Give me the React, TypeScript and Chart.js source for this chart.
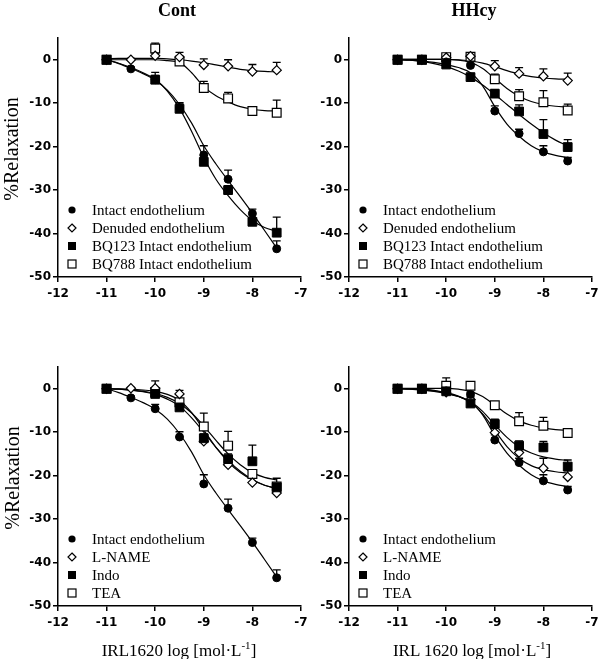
import React, { useEffect, useRef } from "react";
import { Chart, registerables } from "chart.js";

Chart.register(...registerables);

// ---------------- DATA ----------------
const doses = [-11, -10.5, -10, -9.5, -9, -8.5, -8, -7.5];
const fitDoses = [-11, -10.75, -10.5, -10.25, -10, -9.75, -9.5, -9.25, -9, -8.75, -8.5, -8.25, -8, -7.75, -7.5];
const xTicks = [-12, -11, -10, -9, -8, -7];
const yTicks = [0, -10, -20, -30, -40, -50];

// Cont – intact endothelium (used in both Cont panels)
const contIntactMean = [0, -2.1, -4.6, -11.1, -21.9, -27.5, -35.4, -43.5];
const contIntactSem = [0, 0.4, 1.0, 1.2, 2.1, 2.1, 1.0, 1.8];
const contIntactFit = [0, -0.9, -2.0, -3.2, -4.7, -7.0, -10.3, -14.6, -19.8, -24.0, -27.8, -31.5, -35.3, -39.3, -43.3];

// Cont – denuded / BQ123 / BQ788 (null = no visible point)
const contDenudedMean = [0, 0, 0.9, 0.6, -1.2, -1.5, -2.7, -2.4];
const contDenudedSem = [0, 0.3, 0.6, 1.1, 1.4, 1.5, 1.6, 1.8];
const contDenudedFit = [0.2, 0.3, 0.3, 0.3, 0.3, 0.2, 0.0, -0.3, -0.7, -1.2, -1.7, -2.2, -2.5, -2.7, -2.8];

const contBq123Mean = [0, null, -4.6, -11.3, -23.5, -30.0, -37.3, -39.8];
const contBq123Sem = [0, 0, 1.7, 1.3, 1.5, 1.0, 0.8, 3.6];
const contBq123Fit = [0, -0.8, -1.8, -3.0, -4.5, -7.2, -11.2, -16.5, -22.5, -27.5, -31.3, -34.5, -37.0, -38.6, -39.5];

const contBq788Mean = [0, null, 2.6, -0.4, -6.5, -8.9, -11.8, -12.2];
const contBq788Sem = [0, 0, 1.2, 1.3, 1.5, 1.4, 0.6, 2.9];
const contBq788Fit = [0, 0, 0, 0, 0, -0.2, -0.6, -3.0, -6.2, -8.3, -9.7, -10.8, -11.4, -11.7, -11.8];

// Cont – L-NAME / Indo / TEA
const contLnameMean = [0, 0.1, 0.1, -1.2, -12.1, -17.5, -21.6, -24.0];
const contLnameSem = [0, 0.2, 1.7, 0.8, 1.0, 1.0, 1.0, 1.2];
const contLnameFit = [0, 0, -0.1, -0.3, -0.6, -1.3, -2.7, -5.5, -9.5, -13.5, -16.8, -19.3, -21.0, -22.2, -22.9];

const contIndoMean = [0, null, -1.2, -4.3, -11.4, -16.2, -16.7, -22.7];
const contIndoSem = [0, 0, 0.6, 0.5, 1.0, 1.2, 3.7, 2.1];
const contIndoFit = [0, -0.1, -0.3, -0.7, -1.3, -2.4, -4.0, -6.7, -10.0, -13.5, -16.5, -19.0, -20.9, -22.2, -23.0];

const contTeaMean = [0, null, -0.8, -3.1, -8.7, -13.1, -19.6, -22.5];
const contTeaSem = [0, 0, 0.5, 0.7, 3.1, 3.3, 1.0, 0.9];
const contTeaFit = [0, -0.1, -0.3, -0.6, -1.1, -2.0, -3.4, -5.6, -8.6, -11.9, -15.0, -17.5, -19.3, -20.4, -21.0];

// HHcy – intact endothelium (used in both HHcy panels)
const hhcyIntactMean = [0, 0, -0.5, -1.3, -11.8, -17.0, -21.2, -23.3];
const hhcyIntactSem = [0, 0, 0.3, 0.5, 1.2, 1.0, 1.4, 0.8];
const hhcyIntactFit = [0, -0.1, -0.3, -0.6, -1.1, -1.8, -3.0, -6.0, -10.8, -14.8, -17.6, -19.8, -21.2, -22.0, -22.5];

// HHcy – denuded / BQ123 / BQ788
const hhcyDenudedMean = [0, 0, 0.5, 0.8, -1.5, -3.2, -3.8, -4.8];
const hhcyDenudedSem = [0, 0, 0.5, 0.5, 1.3, 1.4, 1.7, 1.7];
const hhcyDenudedFit = [0.1, 0.1, 0.1, 0.1, 0.1, 0, -0.3, -0.8, -1.6, -2.5, -3.3, -3.9, -4.2, -4.4, -4.5];

const hhcyBq123Mean = [0, 0, -1.1, -4.0, -7.8, -11.9, -17.1, -20.1];
const hhcyBq123Sem = [0, 0, 0.6, 0.6, 0.9, 1.5, 3.3, 1.7];
const hhcyBq123Fit = [0, -0.1, -0.4, -0.9, -1.6, -2.6, -4.0, -5.8, -8.0, -10.3, -12.6, -14.8, -16.8, -18.5, -19.8];

const hhcyBq788Mean = [0, 0, 0.6, 0.7, -4.5, -8.4, -9.8, -11.7];
const hhcyBq788Sem = [0, 0, 0.5, 0.6, 1.2, 1.5, 2.7, 1.5];
const hhcyBq788Fit = [0.1, 0.1, 0.1, 0.1, 0.1, -0.1, -0.6, -2.0, -4.3, -6.6, -8.4, -9.6, -10.3, -10.7, -10.9];

// HHcy – L-NAME / Indo / TEA
const hhcyLnameMean = [0, 0, -0.8, -2.5, -10.1, -14.7, -18.3, -20.3];
const hhcyLnameSem = [0, 0, 0.4, 0.6, 1.0, 1.0, 2.3, 1.4];
const hhcyLnameFit = [0, 0, -0.1, -0.4, -1.0, -1.8, -3.2, -5.8, -9.6, -13.3, -16.0, -17.7, -18.6, -19.1, -19.4];

const hhcyIndoMean = [0, 0, -0.6, -3.4, -8.1, -13.1, -13.5, -17.9];
const hhcyIndoSem = [0, 0, 0.5, 0.6, 1.1, 1.1, 1.4, 1.5];
const hhcyIndoFit = [0, -0.1, -0.2, -0.5, -0.9, -1.7, -3.0, -5.2, -8.3, -11.2, -13.4, -14.8, -15.7, -16.2, -16.5];

const hhcyTeaMean = [0, 0, 0.7, 0.7, -3.8, -7.5, -8.5, -10.2];
const hhcyTeaSem = [0, 0, 1.8, 0.8, 0.6, 2.0, 1.9, 0.6];
const hhcyTeaFit = [0.1, 0.1, 0.1, 0.1, 0.1, -0.1, -0.6, -1.8, -3.8, -5.8, -7.4, -8.4, -9.0, -9.4, -9.6];

// ---------------- TYPES / STYLES ----------------
type Kind = "filledCircle" | "openDiamond" | "filledSquare" | "openSquare";
interface Series {
  label: string;
  kind: Kind;
  mean: (number | null)[];
  sem: number[];
  fit: number[];
}

const topLeft: Series[] = [
  { label: "Intact endothelium", kind: "filledCircle", mean: contIntactMean, sem: contIntactSem, fit: contIntactFit },
  { label: "Denuded endothelium", kind: "openDiamond", mean: contDenudedMean, sem: contDenudedSem, fit: contDenudedFit },
  { label: "BQ123 Intact endothelium", kind: "filledSquare", mean: contBq123Mean, sem: contBq123Sem, fit: contBq123Fit },
  { label: "BQ788 Intact endothelium", kind: "openSquare", mean: contBq788Mean, sem: contBq788Sem, fit: contBq788Fit },
];
const topRight: Series[] = [
  { label: "Intact endothelium", kind: "filledCircle", mean: hhcyIntactMean, sem: hhcyIntactSem, fit: hhcyIntactFit },
  { label: "Denuded endothelium", kind: "openDiamond", mean: hhcyDenudedMean, sem: hhcyDenudedSem, fit: hhcyDenudedFit },
  { label: "BQ123 Intact endothelium", kind: "filledSquare", mean: hhcyBq123Mean, sem: hhcyBq123Sem, fit: hhcyBq123Fit },
  { label: "BQ788 Intact endothelium", kind: "openSquare", mean: hhcyBq788Mean, sem: hhcyBq788Sem, fit: hhcyBq788Fit },
];
const bottomLeft: Series[] = [
  { label: "Intact endothelium", kind: "filledCircle", mean: contIntactMean, sem: contIntactSem, fit: contIntactFit },
  { label: "L-NAME", kind: "openDiamond", mean: contLnameMean, sem: contLnameSem, fit: contLnameFit },
  { label: "Indo", kind: "filledSquare", mean: contIndoMean, sem: contIndoSem, fit: contIndoFit },
  { label: "TEA", kind: "openSquare", mean: contTeaMean, sem: contTeaSem, fit: contTeaFit },
];
const bottomRight: Series[] = [
  { label: "Intact endothelium", kind: "filledCircle", mean: hhcyIntactMean, sem: hhcyIntactSem, fit: hhcyIntactFit },
  { label: "L-NAME", kind: "openDiamond", mean: hhcyLnameMean, sem: hhcyLnameSem, fit: hhcyLnameFit },
  { label: "Indo", kind: "filledSquare", mean: hhcyIndoMean, sem: hhcyIndoSem, fit: hhcyIndoFit },
  { label: "TEA", kind: "openSquare", mean: hhcyTeaMean, sem: hhcyTeaSem, fit: hhcyTeaFit },
];

const drawOrder: Record<Kind, number> = { filledSquare: 1, filledCircle: 2, openDiamond: 3, openSquare: 4 };

function pointStyleFor(kind: Kind) {
  switch (kind) {
    case "filledCircle":
      return { pointStyle: "circle", pointRadius: 4, pointBackgroundColor: "#000", pointBorderColor: "#000", pointBorderWidth: 1 };
    case "openDiamond":
      return { pointStyle: "rectRot", pointRadius: 4.6, pointBackgroundColor: "#fff", pointBorderColor: "#000", pointBorderWidth: 1.2 };
    case "filledSquare":
      return { pointStyle: "rect", pointRadius: 6.2, pointBackgroundColor: "#000", pointBorderColor: "#000", pointBorderWidth: 1 };
    default:
      return { pointStyle: "rect", pointRadius: 6.2, pointBackgroundColor: "#fff", pointBorderColor: "#000", pointBorderWidth: 1.2 };
  }
}

function drawLegendSymbol(ctx: CanvasRenderingContext2D, kind: Kind, x: number, y: number) {
  ctx.save();
  ctx.lineWidth = 1.2;
  ctx.strokeStyle = "#000";
  ctx.fillStyle = "#000";
  if (kind === "filledCircle") {
    ctx.beginPath();
    ctx.arc(x, y, 3.6, 0, Math.PI * 2);
    ctx.fill();
  } else if (kind === "openDiamond") {
    ctx.beginPath();
    ctx.moveTo(x, y - 4);
    ctx.lineTo(x + 4, y);
    ctx.lineTo(x, y + 4);
    ctx.lineTo(x - 4, y);
    ctx.closePath();
    ctx.fillStyle = "#fff";
    ctx.fill();
    ctx.stroke();
  } else if (kind === "filledSquare") {
    ctx.fillRect(x - 4, y - 4, 8, 8);
  } else {
    ctx.fillStyle = "#fff";
    ctx.fillRect(x - 4, y - 4, 8, 8);
    ctx.strokeRect(x - 4, y - 4, 8, 8);
  }
  ctx.restore();
}

const tickFont = { family: "'DejaVu Sans', 'Liberation Sans', Arial, sans-serif", weight: "bold" as const, size: 12 };

const errorBarPlugin = {
  id: "errorBars",
  beforeDatasetsDraw(chart: any) {
    const { ctx } = chart;
    const xs = chart.scales.x;
    const ys = chart.scales.y;
    ctx.save();
    ctx.strokeStyle = "#000";
    ctx.lineWidth = 1.3;
    chart.data.datasets.forEach((ds: any) => {
      if (!ds.sem) return;
      ds.data.forEach((p: any, j: number) => {
        const e = ds.sem[j];
        if (!e || p.y === null || p.y === undefined) return;
        const px = xs.getPixelForValue(p.x);
        const py = ys.getPixelForValue(p.y);
        const pt = ys.getPixelForValue(p.y + e);
        ctx.beginPath();
        ctx.moveTo(px, py);
        ctx.lineTo(px, pt);
        ctx.moveTo(px - 4, pt);
        ctx.lineTo(px + 4, pt);
        ctx.stroke();
      });
    });
    ctx.restore();
  },
};

const CANVAS_W = 316;
const CANVAS_H = 310;

function Panel({ series, left, top }: { series: Series[]; left: number; top: number }) {
  const ref = useRef<HTMLCanvasElement>(null);
  useEffect(() => {
    if (!ref.current) return;
    const datasets: any[] = [];
    series.forEach((s) => {
      datasets.push({
        type: "line",
        label: s.label + " fit",
        data: fitDoses.map((x, j) => ({ x, y: s.fit[j] })),
        borderColor: "#000",
        borderWidth: 1.2,
        pointRadius: 0,
        cubicInterpolationMode: "monotone",
        fill: false,
        order: 100,
      });
      datasets.push({
        type: "scatter",
        label: s.label,
        data: doses.map((x, j) => ({ x, y: s.mean[j] })),
        sem: s.sem,
        showLine: false,
        order: drawOrder[s.kind],
        ...pointStyleFor(s.kind),
      });
    });

    const legendPlugin = {
      id: "panelLegend",
      afterDatasetsDraw(chart: any) {
        const { ctx, chartArea } = chart;
        const offsets = [-67, -49, -31, -13];
        ctx.save();
        ctx.font = "15px 'Liberation Serif', 'Times New Roman', serif";
        ctx.fillStyle = "#000";
        ctx.textBaseline = "middle";
        ctx.textAlign = "left";
        series.forEach((s, i) => {
          const y = chartArea.bottom + offsets[i];
          drawLegendSymbol(ctx, s.kind, chartArea.left + 14, y);
          ctx.fillText(s.label, chartArea.left + 34, y + 1);
        });
        ctx.restore();
      },
    };

    const gridOpts = {
      display: true,
      drawOnChartArea: false,
      drawTicks: true,
      tickLength: 5,
      color: "#000",
      lineWidth: 1.5,
    };

    const chart = new Chart(ref.current, {
      type: "scatter",
      data: { datasets },
      options: {
        animation: false,
        responsive: false,
        maintainAspectRatio: false,
        layout: { padding: { top: 38, right: 15, bottom: 0, left: 0 } },
        plugins: {
          legend: { display: false },
          tooltip: { enabled: false },
        },
        scales: {
          x: {
            type: "linear",
            min: xTicks[0],
            max: xTicks[xTicks.length - 1],
            afterBuildTicks: (s: any) => {
              s.ticks = xTicks.map((v) => ({ value: v }));
            },
            ticks: { color: "#000", font: tickFont, padding: 5, maxRotation: 0, autoSkip: false },
            grid: gridOpts,
            border: { display: true, color: "#000", width: 1.5 },
            afterFit: (s: any) => {
              s.height = 33;
            },
          },
          y: {
            type: "linear",
            min: -50,
            max: 5,
            afterBuildTicks: (s: any) => {
              s.ticks = yTicks.map((v) => ({ value: v }));
            },
            ticks: { color: "#000", font: tickFont, padding: 2, autoSkip: false },
            grid: gridOpts,
            border: { display: true, color: "#000", width: 1.5 },
            afterFit: (s: any) => {
              s.width = 58;
            },
          },
        },
      } as any,
      plugins: [errorBarPlugin, legendPlugin],
    });
    return () => chart.destroy();
  }, [series]);

  return (
    <canvas
      ref={ref}
      width={CANVAS_W}
      height={CANVAS_H}
      style={{ position: "absolute", left, top, width: CANVAS_W, height: CANVAS_H }}
    />
  );
}

function Label({
  x,
  y,
  children,
  size,
  bold,
  rotate,
}: {
  x: number;
  y: number;
  children: React.ReactNode;
  size: number;
  bold?: boolean;
  rotate?: boolean;
}) {
  return (
    <div
      style={{
        position: "absolute",
        left: x,
        top: y,
        transform: `translate(-50%, -50%)${rotate ? " rotate(-90deg)" : ""}`,
        fontFamily: "'Liberation Serif', 'Times New Roman', serif",
        fontSize: size,
        fontWeight: bold ? "bold" : "normal",
        whiteSpace: "nowrap",
        lineHeight: 1,
        color: "#000",
      }}
    >
      {children}
    </div>
  );
}

export default function App() {
  return (
    <div
      style={{
        position: "absolute",
        left: 0,
        top: 0,
        width: 600,
        height: 659,
        overflow: "hidden",
        background: "#fff",
      }}
    >
      <Panel series={topLeft} left={0} top={0} />
      <Panel series={topRight} left={291} top={0} />
      <Panel series={bottomLeft} left={0} top={329} />
      <Panel series={bottomRight} left={291} top={329} />

      <Label x={177} y={10} size={18} bold>
        Cont
      </Label>
      <Label x={474} y={10} size={18} bold>
        HHcy
      </Label>
      <Label x={11} y={149} size={20} rotate>
        %Relaxation
      </Label>
      <Label x={12} y={478} size={20} rotate>
        %Relaxation
      </Label>
      <Label x={179} y={649} size={17}>
        <span>
          IRL1620 log [mol·L<sup style={{ fontSize: 11 }}>-1</sup>]
        </span>
      </Label>
      <Label x={472} y={649} size={17}>
        <span>
          IRL 1620 log [mol·L<sup style={{ fontSize: 11 }}>-1</sup>]
        </span>
      </Label>
    </div>
  );
}
